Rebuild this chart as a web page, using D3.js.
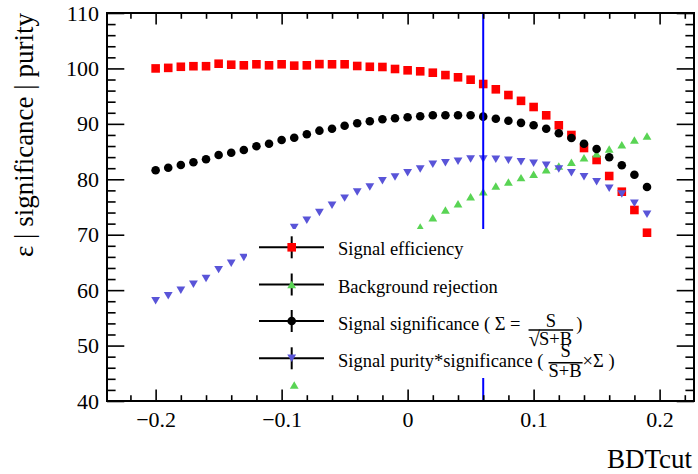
<!DOCTYPE html>
<html>
<head>
<meta charset="utf-8">
<script src="https://cdn.jsdelivr.net/npm/d3@7"></script>
<style>
  body { margin: 0; background: #fff; }
  svg { display: block; }
  text { font-family: "Liberation Serif", "Times New Roman", "DejaVu Serif", serif; fill: #000; }
</style>
</head>
<body>
<svg id="chart" width="698" height="474" font-family="Liberation Serif, serif"></svg>
<script>
// BDT cut values scanned
const bdtCut = [-0.20, -0.19, -0.18, -0.17, -0.16, -0.15, -0.14, -0.13, -0.12, -0.11,
                -0.10, -0.09, -0.08, -0.07, -0.06, -0.05, -0.04, -0.03, -0.02, -0.01,
                 0.00,  0.01,  0.02,  0.03,  0.04,  0.05,  0.06,  0.07,  0.08,  0.09,
                 0.10,  0.11,  0.12,  0.13,  0.14,  0.15,  0.16,  0.17,  0.18,  0.19];

// Signal efficiency (%)
const signalEfficiency = [100.0, 100.1, 100.3, 100.4, 100.4, 100.85, 100.67, 100.56, 100.75, 100.56,
                          100.75, 100.5, 100.56, 100.78, 100.75, 100.75, 100.44, 100.3, 100.26, 99.9,
                          99.66, 99.48, 99.23, 98.8, 98.4, 97.97, 97.19, 96.23, 95.2, 94.15,
                          93.04, 91.54, 89.74, 87.99, 85.64, 83.48, 80.59, 77.76, 74.46, 70.36];

// Background rejection (%); null where below the plotted range
const backgroundRejection = [null, null, null, null, null, null, null, null, null, null,
                             null, 42.9, 47.0, 50.6, 54.0, 57.2, 60.1, 62.8, 65.3, 67.6,
                             69.7, 71.4, 73.07, 74.46, 75.6, 76.86, 77.76, 78.79, 79.5, 80.3,
                             80.9, 81.7, 82.4, 83.07, 83.9, 84.62, 85.46, 86.24, 87.09, 87.81];

// Signal significance (scaled)
const signalSignificance = [81.62, 82.09, 82.58, 83.07, 83.61, 84.38, 84.8, 85.28, 85.95, 86.42,
                            87.09, 87.5, 88.12, 88.77, 89.13, 89.67, 90.1, 90.46, 90.82, 91.0,
                            91.18, 91.36, 91.54, 91.54, 91.54, 91.54, 91.3, 90.93, 90.57, 90.18,
                            89.74, 89.13, 88.3, 87.45, 86.42, 85.46, 83.97, 82.52, 80.83, 78.61];

// Signal purity * significance (scaled)
const puritySignificance = [58.1, 59.0, 60.0, 61.05, 62.1, 63.7, 64.84, 65.9, 67.2, 68.6,
                            70.0, 71.3, 72.6, 74.0, 75.3, 76.6, 77.7, 78.6, 79.75, 80.41,
                            81.19, 81.86, 82.7, 83.0, 83.25, 83.66, 83.66, 83.6, 83.45, 83.15,
                            82.88, 82.52, 81.86, 81.19, 80.47, 79.57, 78.37, 77.35, 75.67, 73.68];

// Chosen cut
const bestCut = 0.06;

// Axis ticks and labels
const xMajorTicks = [-0.2, -0.1, 0, 0.1, 0.2];
const xTickLabels = ["\u22120.2", "\u22120.1", "0", "0.1", "0.2"];
const xMinorTicks = [-0.22, -0.18, -0.16, -0.14, -0.12, -0.08, -0.06, -0.04, -0.02,
                     0.02, 0.04, 0.06, 0.08, 0.12, 0.14, 0.16, 0.18, 0.22];
const yMajorTicks = [40, 50, 60, 70, 80, 90, 100, 110];
const yTickLabels = ["40", "50", "60", "70", "80", "90", "100", "110"];
const yMinorTicks = [42, 44, 46, 48, 52, 54, 56, 58, 62, 64, 66, 68, 72, 74, 76, 78,
                     82, 84, 86, 88, 92, 94, 96, 98, 102, 104, 106, 108];

const xTitle = "BDTcut";
const yTitle = "\u03b5 | significance | purity";

const serif = '"Liberation Serif", "Times New Roman", serif';

// ---- layout ----
const svg = d3.select("#chart");
const L = 107, R = 694, T = 13, B = 401;

const x = d3.scaleLinear().domain([-0.2386, 0.2273]).range([L, R]);
const y = d3.scaleLinear().domain([40, 110]).range([B, T]);

// custom markers centred on their bounding box
const triUp = { draw(ctx, s) { const w = s, h = s * 0.85; ctx.moveTo(-w/2, h/2); ctx.lineTo(w/2, h/2); ctx.lineTo(0, -h/2); ctx.closePath(); } };
const triDown = { draw(ctx, s) { const w = s, h = s * 0.85; ctx.moveTo(-w/2, -h/2); ctx.lineTo(w/2, -h/2); ctx.lineTo(0, h/2); ctx.closePath(); } };
const square = { draw(ctx, s) { ctx.rect(-s/2, -s/2, s, s); } };
const circle = { draw(ctx, s) { ctx.arc(0, 0, s/2, 0, 2 * Math.PI); } };

const series = [
  { name: "Signal efficiency", values: signalEfficiency, color: "#ff0000", shape: square, size: 8.6 },
  { name: "Background rejection", values: backgroundRejection, color: "#59d454", shape: triUp, size: 8.8 },
  { name: "Signal significance", values: signalSignificance, color: "#000000", shape: circle, size: 8.6 },
  { name: "Signal purity*significance", values: puritySignificance, color: "#5954d8", shape: triDown, size: 8.8 }
];

// clip for data
svg.append("defs").append("clipPath").attr("id", "plotClip")
  .append("rect").attr("x", L).attr("y", T).attr("width", R - L).attr("height", B - T);

const plot = svg.append("g").attr("clip-path", "url(#plotClip)");

series.forEach(s => {
  const pts = bdtCut.map((c, i) => ({ c, v: s.values[i] })).filter(d => d.v !== null);
  plot.append("g").selectAll("path").data(pts).join("path")
    .attr("transform", d => `translate(${x(d.c)},${y(d.v)})`)
    .attr("d", d3.symbol().type(s.shape).size(s.size))
    .attr("fill", s.color);
});

// chosen cut line
plot.append("line")
  .attr("x1", x(bestCut)).attr("x2", x(bestCut))
  .attr("y1", y(110)).attr("y2", y(40))
  .attr("stroke", "#0000ff").attr("stroke-width", 2);

// ---- axes ----
function styleAxis(g) {
  g.attr("font-family", serif).attr("font-size", 22);
  g.select(".domain").remove();
  g.selectAll(".tick line").attr("stroke", "#000").attr("stroke-width", 1.6);
  g.selectAll(".tick text").attr("font-family", serif).style("font-family", serif)
    .style("font-size", "22px").attr("fill", "#000");
}

// bottom
svg.append("g").attr("transform", `translate(0,${B})`)
  .call(d3.axisBottom(x).tickValues(xMajorTicks).tickSize(-11.6).tickPadding(10.5)
        .tickFormat((d, i) => xTickLabels[i]))
  .call(styleAxis);
svg.append("g").attr("transform", `translate(0,${B})`)
  .call(d3.axisBottom(x).tickValues(xMinorTicks).tickSize(-5.8).tickFormat(""))
  .call(styleAxis);
// top
svg.append("g").attr("transform", `translate(0,${T})`)
  .call(d3.axisTop(x).tickValues(xMajorTicks).tickSize(-11.6).tickFormat(""))
  .call(styleAxis);
svg.append("g").attr("transform", `translate(0,${T})`)
  .call(d3.axisTop(x).tickValues(xMinorTicks).tickSize(-5.8).tickFormat(""))
  .call(styleAxis);
// left
svg.append("g").attr("transform", `translate(${L},0)`)
  .call(d3.axisLeft(y).tickValues(yMajorTicks).tickSize(-17.3).tickPadding(8)
        .tickFormat((d, i) => yTickLabels[i]))
  .call(styleAxis);
svg.append("g").attr("transform", `translate(${L},0)`)
  .call(d3.axisLeft(y).tickValues(yMinorTicks).tickSize(-8.6).tickFormat(""))
  .call(styleAxis);
// right
svg.append("g").attr("transform", `translate(${R},0)`)
  .call(d3.axisRight(y).tickValues(yMajorTicks).tickSize(-17.3).tickFormat(""))
  .call(styleAxis);
svg.append("g").attr("transform", `translate(${R},0)`)
  .call(d3.axisRight(y).tickValues(yMinorTicks).tickSize(-8.6).tickFormat(""))
  .call(styleAxis);

// frame
svg.append("rect").attr("x", L).attr("y", T).attr("width", R - L).attr("height", B - T)
  .attr("fill", "none").attr("stroke", "#000").attr("stroke-width", 2);

// axis titles
svg.append("text").attr("x", 692).attr("y", 468).attr("text-anchor", "end")
  .style("font-family", serif).style("font-size", "27px").text(xTitle);
svg.append("text").attr("transform", `translate(33,${T}) rotate(-90)`).attr("text-anchor", "end")
  .style("font-family", serif).style("font-size", "27px").text(yTitle);

// ---- legend ----
const leg = svg.append("g");
leg.append("rect").attr("x", 247).attr("y", 229).attr("width", 388).attr("height", 149).attr("fill", "#fff");
const rowY = [247.3, 284.5, 321, 358.3];
const fs = 18.5;
series.forEach((s, i) => {
  const ry = rowY[i];
  leg.append("line").attr("x1", 259).attr("x2", 324).attr("y1", ry).attr("y2", ry)
    .attr("stroke", "#000").attr("stroke-width", 2);
  leg.append("line").attr("x1", 291.7).attr("x2", 291.7).attr("y1", ry - 11).attr("y2", ry + 11)
    .attr("stroke", "#000").attr("stroke-width", 2);
  leg.append("path").attr("transform", `translate(291.7,${ry})`)
    .attr("d", d3.symbol().type(s.shape).size(s.size)).attr("fill", s.color);
});

function addText(xp, yp, str, anchor, size) {
  return leg.append("text").attr("x", xp).attr("y", yp).attr("text-anchor", anchor || "start")
    .style("font-family", serif).style("font-size", (size || fs) + "px").text(str);
}
function textEnd(t) { return +t.attr("x") + t.node().getComputedTextLength(); }

addText(338, rowY[0] + 8, "Signal efficiency");
addText(338, rowY[1] + 8, "Background rejection");

// row 3: Signal significance ( Σ = S / √(S+B) )
{
  const ry = rowY[2];
  const t = addText(338, ry + 8.5, "Signal significance ( \u03a3 =");
  const fx = textEnd(t) + 8;
  const rad = addText(fx, ry + 24.5, "\u221a", "start", 21);
  const rw = rad.node().getComputedTextLength() - 1;
  const den = addText(fx + rw, ry + 24, "S+B");
  const fw = rw + den.node().getComputedTextLength() + 1;
  leg.append("line").attr("x1", fx).attr("x2", fx + fw).attr("y1", ry + 9).attr("y2", ry + 9)
    .attr("stroke", "#000").attr("stroke-width", 1.6);
  addText(fx + fw / 2, ry + 6, "S", "middle");
  addText(fx + fw + 3, ry + 8.5, ")");
}
// row 4: Signal purity*significance ( S/(S+B) × Σ )
{
  const ry = rowY[3];
  const t = addText(338, ry + 8.4, "Signal purity*significance (");
  const fx = textEnd(t) + 5;
  const den = addText(fx, ry + 18.4, "S+B");
  const fw = den.node().getComputedTextLength() + 1;
  leg.append("line").attr("x1", fx).attr("x2", fx + fw).attr("y1", ry + 4.4).attr("y2", ry + 4.4)
    .attr("stroke", "#000").attr("stroke-width", 1.6);
  addText(fx + fw / 2, ry - 1.6, "S", "middle");
  addText(fx + fw, ry + 8.4, "\u00d7\u03a3 )");
}
</script>
</body>
</html>
